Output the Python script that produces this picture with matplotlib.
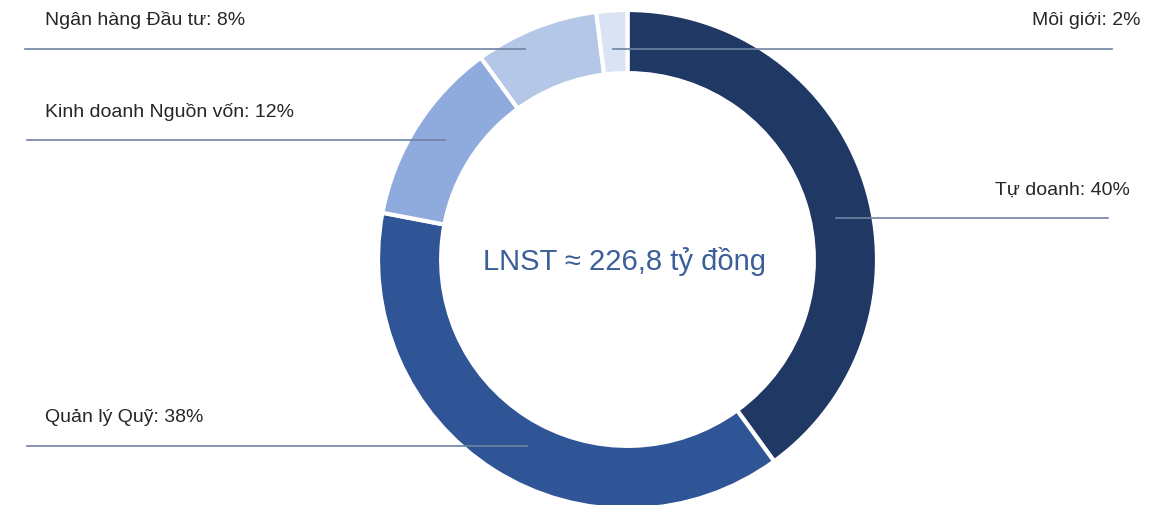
import matplotlib.pyplot as plt

# data
segments = ['Tự doanh', 'Quản lý Quỹ', 'Kinh doanh Nguồn vốn', 'Ngân hàng Đầu tư', 'Môi giới']
shares = [40, 38, 12, 8, 2]
colors = ['#1f3864', '#2f5597', '#8faadc', '#b4c7e7', '#dae3f3']
center_text = 'LNST ≈ 226,8 tỷ đồng'

# label layout in pixel coords (x_text, y_text, ha, line_x0, line_x1, line_y)
label_pos = {
    'Tự doanh': (1130, 190, 'right', 836, 1108, 219),
    'Quản lý Quỹ': (45, 418, 'left', 27, 527, 447),
    'Kinh doanh Nguồn vốn': (45, 112, 'left', 27, 445, 141),
    'Ngân hàng Đầu tư': (45, 20, 'left', 25, 525, 50),
    'Môi giới': (1140, 20, 'right', 613, 1112, 50),
}

W, H = 1166, 506
plt.rcParams['font.family'] = ['Liberation Sans', 'DejaVu Sans']
fig = plt.figure(figsize=(W / 100, H / 100), dpi=100)
ax = fig.add_axes([0, 0, 1, 1])

cx, cy, r = 627.5, H - 260.5, 249.5
ax.pie(shares, colors=colors, startangle=90, counterclock=False,
       center=(cx, cy), radius=r,
       wedgeprops=dict(width=r * 0.253, edgecolor='white', linewidth=3))

for name, val in zip(segments, shares):
    tx, ty, ha, x0, x1, ly = label_pos[name]
    ax.text(tx, H - ty, f'{name}: {val}%', ha=ha, va='center',
            fontsize=14, color='#262626')
    ax.plot([x0, x1], [H - ly, H - ly], color='#6f83a3', lw=1.2)

ax.text(624.5, H - 262, center_text, ha='center', va='center',
        fontsize=21, color='#3b5f99')

ax.set_xlim(0, W)
ax.set_ylim(0, H)
ax.set_aspect('auto')
ax.axis('off')

plt.savefig('out.png', dpi=100)
